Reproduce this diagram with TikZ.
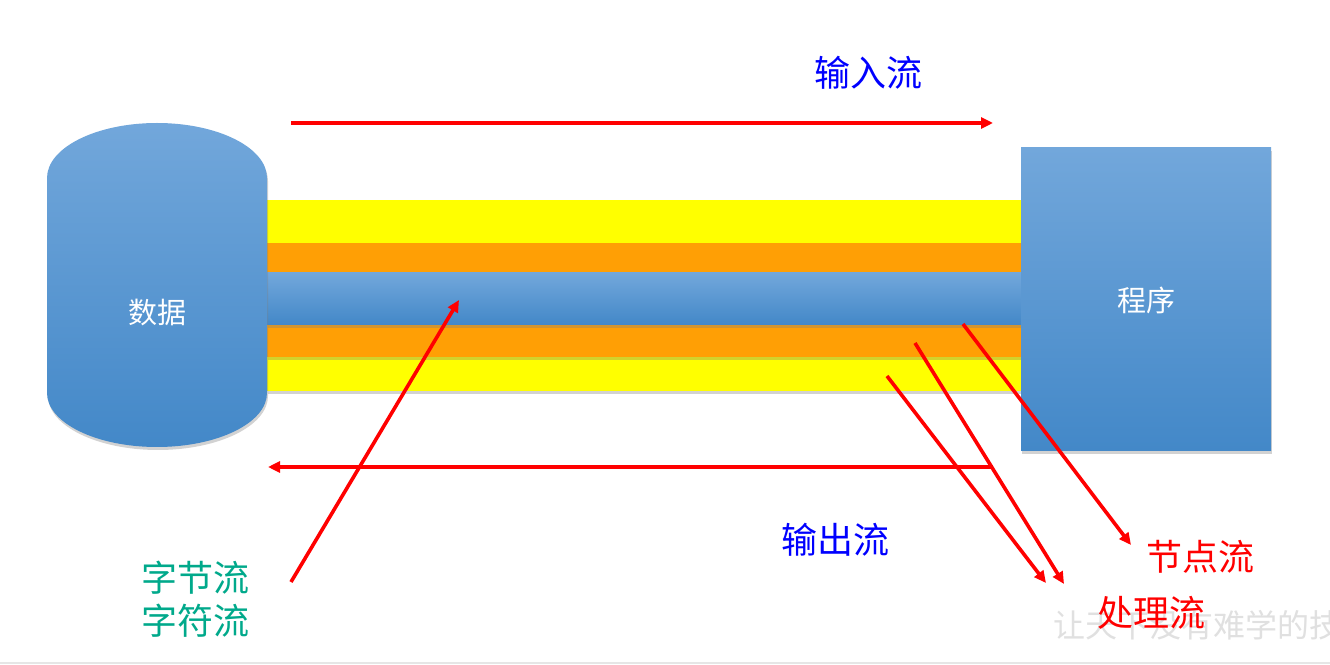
\documentclass[tikz,border=0pt]{standalone}
\usepackage{fontspec}
\newfontfamily\cjk{Noto Sans CJK SC}
\usetikzlibrary{arrows.meta,shadows}
\definecolor{bluetop}{HTML}{72A7DB}
\definecolor{bluebot}{HTML}{4388C8}
\definecolor{bandyellow}{HTML}{FFFF00}
\definecolor{bandorange}{HTML}{FF9F05}
\definecolor{arrred}{HTML}{FF0000}
\definecolor{txtblue}{HTML}{0000FF}
\definecolor{txtgreen}{HTML}{00A98B}
\definecolor{wmgrey}{HTML}{E0E0E0}
\tikzset{
  bluefill/.style={top color=bluetop,bottom color=bluebot,draw=none},
  softshadow/.style={drop shadow={opacity=0.35,shadow xshift=1pt,shadow yshift=-3pt}},
  band/.style={draw=none,inner sep=0pt,minimum width=754pt},
  redarrow/.style={draw=arrred,line width=3.6pt,-{Triangle[length=12pt,width=11pt]}},
  label/.style={font=\cjk\fontsize{36}{43}\selectfont,inner sep=0pt,align=center},
  whitelabel/.style={font=\cjk\fontsize{29}{34}\selectfont,text=white,inner sep=0pt},
}
\begin{document}
\begin{tikzpicture}[x=1pt,y=1pt]
\useasboundingbox (0,0) rectangle (1330,664);
\fill[white] (0,0) rectangle (1330,664);
\fill[wmgrey!80] (0,0) rectangle (1330,2.5);
% watermark
\node[anchor=west,inner sep=0pt,text=wmgrey,font=\cjk\fontsize{32}{32}\selectfont] (wm) at (1053,39) {让天下没有难学的技};
% bands
\node[band,fill=bandyellow,minimum height=191pt,anchor=south west,softshadow] (y1) at (267,273) {};
\node[band,fill=bandorange,minimum height=114pt,anchor=south west,softshadow] (o1) at (267,307) {};
\node[band,bluefill,minimum width=755pt,minimum height=52pt,anchor=south west,softshadow] (b1) at (267,339) {};
% cylinder
\path[bluefill,softshadow] (47,486) -- (47,271) arc[start angle=180,end angle=360,x radius=110,y radius=54] -- (267,486) arc[start angle=0,end angle=180,x radius=110,y radius=55] -- cycle;
\node[whitelabel] (data) at (157,351) {数据};
% program box
\node[bluefill,softshadow,minimum width=250pt,minimum height=303pt,inner sep=0pt,anchor=south west] (prog) at (1021,213) {};
\node[whitelabel] (progtext) at (1146,364) {程序};
% labels
\node[label,text=txtblue] (in) at (868,591) {输入流};
\node[label,text=txtblue] (out) at (835,124) {输出流};
\node[label,text=txtgreen] (bytes) at (195,86) {字节流};
\node[label,text=txtgreen] (chars) at (195,43) {字符流};
\node[label,text=arrred] (node) at (1200,107) {节点流};
\node[label,text=arrred] (proc) at (1151,51) {处理流};
% arrow coordinates
\coordinate (inS) at (291,541);
\coordinate (inE) at (993,541);
\coordinate (outS) at (993,197);
\coordinate (outE) at (268,197);
\coordinate (dS) at (291,82);
\coordinate (dE) at (459,364);
\coordinate (p1S) at (887,288);
\coordinate (p1E) at (1046,81);
\coordinate (p2S) at (915,321);
\coordinate (p2E) at (1064,80);
\coordinate (nS) at (963,340);
\coordinate (nE) at (1131,119);
\draw[redarrow] (inS) -- (inE);
\draw[redarrow] (outS) -- (outE);
\draw[redarrow] (dS) -- (dE);
\draw[redarrow] (p1S) -- (p1E);
\draw[redarrow] (p2S) -- (p2E);
\draw[redarrow] (nS) -- (nE);
\end{tikzpicture}
\end{document}
